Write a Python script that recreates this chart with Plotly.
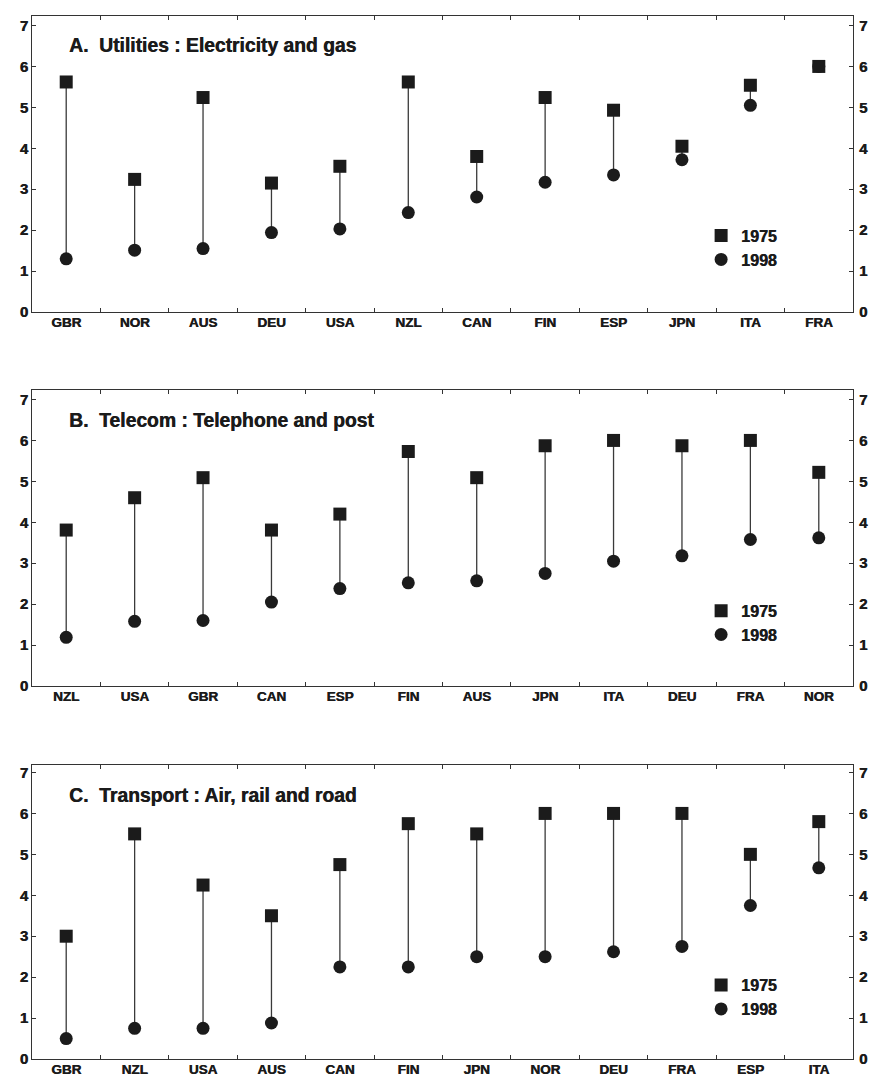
import plotly.graph_objects as go

# ---------------- data ----------------
util_countries = ["GBR", "NOR", "AUS", "DEU", "USA", "NZL", "CAN", "FIN", "ESP", "JPN", "ITA", "FRA"]
util_1975 = [5.62, 3.24, 5.24, 3.15, 3.56, 5.62, 3.80, 5.24, 4.93, 4.05, 5.54, 6.00]
util_1998 = [1.30, 1.51, 1.55, 1.94, 2.03, 2.43, 2.81, 3.17, 3.35, 3.72, 5.05, 6.00]

tele_countries = ["NZL", "USA", "GBR", "CAN", "ESP", "FIN", "AUS", "JPN", "ITA", "DEU", "FRA", "NOR"]
tele_1975 = [3.81, 4.60, 5.09, 3.81, 4.20, 5.73, 5.09, 5.87, 6.00, 5.87, 6.00, 5.22]
tele_1998 = [1.19, 1.58, 1.60, 2.05, 2.38, 2.52, 2.57, 2.75, 3.05, 3.18, 3.58, 3.62]

trans_countries = ["GBR", "NZL", "USA", "AUS", "CAN", "FIN", "JPN", "NOR", "DEU", "FRA", "ESP", "ITA"]
trans_1975 = [3.00, 5.50, 4.25, 3.50, 4.75, 5.75, 5.50, 6.00, 6.00, 6.00, 5.00, 5.80]
trans_1998 = [0.50, 0.75, 0.75, 0.88, 2.25, 2.25, 2.50, 2.50, 2.62, 2.75, 3.75, 4.67]

panel_titles = ["A.  Utilities : Electricity and gas",
                "B.  Telecom : Telephone and post",
                "C.  Transport : Air, rail and road"]
series_names = ["1975", "1998"]
y_ticks = [0, 1, 2, 3, 4, 5, 6, 7]

panels = [
    (util_countries, util_1975, util_1998),
    (tele_countries, tele_1975, tele_1998),
    (trans_countries, trans_1975, trans_1998),
]

# ---------------- layout constants ----------------
W, H = 870, 1077
ML, MR, MT, MB = 32, 17, 16, 18
PH = H - MT - MB
def dom(top_px, bot_px):
    return [(H - MB - bot_px) / PH, (H - MB - top_px) / PH]
domains = [dom(16, 312), dom(390, 686), dom(765, 1059)]
legend_px = [247.7, 622.8, 997.2]
legend_y = [(H - MB - p) / PH for p in legend_px]
FONT = "Liberation Sans, Arial, sans-serif"
INK = "#1b1b1b"
AX = "#333333"
SHADOW = "0.5px 0px 0px #1b1b1b"

fig = go.Figure()
layout = dict(
    width=W, height=H,
    margin=dict(l=ML, r=MR, t=MT, b=MB, autoexpand=False),
    paper_bgcolor="white", plot_bgcolor="white",
    font=dict(family=FONT, color=INK),
    annotations=[],
)

for i, (cats, v75, v98) in enumerate(panels):
    n = i + 1
    xname = "x" if n == 1 else f"x{n}"
    yname = "y" if n == 1 else f"y{n}"
    yright = f"y{n + 3}"
    legname = "legend" if n == 1 else f"legend{n}"
    dh = (domains[i][1] - domains[i][0]) * PH
    ymax = 7 * dh / 286.5  # tick "7" sits ~9.5px below the frame top

    # connecting stems (base axis, drawn underneath)
    sx, sy = [], []
    for c, a, b in zip(cats, v75, v98):
        sx += [c, c, None]
        sy += [a, b, None]
    fig.add_trace(go.Scatter(x=sx, y=sy, mode="lines", xaxis=xname, yaxis=yname,
                             line=dict(color="#3a3a3a", width=1.3),
                             showlegend=False, hoverinfo="skip"))
    # markers on the right-hand (overlaying, identical-range) axis, drawn on top
    fig.add_trace(go.Scatter(x=cats, y=v98, mode="markers", name=series_names[1],
                             xaxis=xname, yaxis=yright, legend=legname, legendrank=2,
                             marker=dict(symbol="circle", size=13, color=INK)))
    fig.add_trace(go.Scatter(x=cats, y=v75, mode="markers", name=series_names[0],
                             xaxis=xname, yaxis=yright, legend=legname, legendrank=1,
                             marker=dict(symbol="square", size=13, color=INK)))

    xkey = "xaxis" if n == 1 else f"xaxis{n}"
    ykey = "yaxis" if n == 1 else f"yaxis{n}"
    layout[xkey] = dict(
        type="category", categoryorder="array", categoryarray=cats,
        range=[-0.5, len(cats) - 0.5], anchor=yname, domain=[0, 1],
        showline=True, linecolor=AX, linewidth=1, mirror="ticks",
        ticks="inside", tickson="boundaries", ticklen=4, tickcolor=AX,
        showgrid=False, zeroline=False, automargin=False, ticklabelstandoff=-2,
        tickfont=dict(family=FONT, size=13.5, color=INK, weight="bold", shadow=SHADOW),
    )
    layout[ykey] = dict(
        range=[0, ymax], domain=domains[i], anchor=xname,
        tickvals=y_ticks, showline=True, linecolor=AX, linewidth=1,
        ticks="inside", ticklen=4, tickcolor=AX, showgrid=False, zeroline=False,
        automargin=False,
        tickfont=dict(family=FONT, size=15, color=INK, weight="bold", shadow=SHADOW),
    )
    layout[f"yaxis{n + 3}"] = dict(
        range=[0, ymax], overlaying=yname, side="right", anchor=xname,
        tickvals=y_ticks, showline=True, linecolor=AX, linewidth=1,
        ticks="inside", ticklen=4, tickcolor=AX, showgrid=False, zeroline=False,
        automargin=False, showticklabels=True, ticklabelstandoff=2,
        tickfont=dict(family=FONT, size=15, color=INK, weight="bold", shadow=SHADOW),
    )
    layout[legname] = dict(
        x=0.815, xanchor="left", y=legend_y[i], yanchor="middle",
        bgcolor="rgba(0,0,0,0)", borderwidth=0,
        font=dict(family=FONT, size=16, color=INK, weight="bold", shadow=SHADOW),
        itemwidth=30,
    )
    layout["annotations"].append(dict(
        text=panel_titles[i], xref=f"{xname} domain", yref=f"{yname} domain",
        x=0.0426, y=1 - 30 / dh, xanchor="left", yanchor="middle", showarrow=False,
        font=dict(family=FONT, size=19.3, color=INK, weight="bold", shadow=SHADOW),
    ))

fig.update_layout(**layout)
fig.write_html(
    "out.html",
    config={"displayModeBar": False},
    post_script="document.body.style.margin='0';document.body.style.overflow='hidden';",
)
